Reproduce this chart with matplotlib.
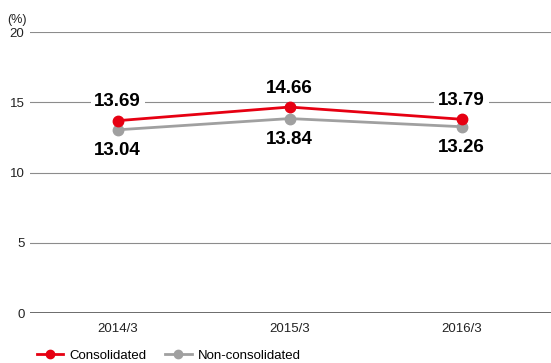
import matplotlib.pyplot as plt

plt.rcParams['font.family'] = ['Liberation Sans', 'DejaVu Sans']

# donnees
annees = ['2014/3', '2015/3', '2016/3']
consolide = [13.69, 14.66, 13.79]
non_consolide = [13.04, 13.84, 13.26]
graduations = [0, 5, 10, 15, 20]

rouge = '#e60012'
gris = '#a0a0a0'

fig = plt.figure(figsize=(5.51, 3.63), dpi=100)
ax = fig.add_axes([0.0544, 0.1377, 0.9456, 0.7741])

x = range(len(annees))
ax.plot(x, non_consolide, color=gris, lw=2, marker='o', ms=7.5, zorder=3,
        label='Non-consolidated')
ax.plot(x, consolide, color=rouge, lw=2, marker='o', ms=7.5, zorder=4,
        label='Consolidated')

# etiquettes des valeurs
for i in x:
    ax.annotate(f'{consolide[i]:.2f}', (i, consolide[i]), xytext=(0, 13.5),
                textcoords='offset points', ha='center', va='center',
                fontsize=13.5, fontweight='bold', zorder=5,
                bbox=dict(boxstyle='square,pad=0.2', fc='white', ec='none'))
    ax.annotate(f'{non_consolide[i]:.2f}', (i, non_consolide[i]), xytext=(0, -15),
                textcoords='offset points', ha='center', va='center',
                fontsize=13.5, fontweight='bold', zorder=5,
                bbox=dict(boxstyle='square,pad=0.2', fc='white', ec='none'))

ax.set_xlim(-0.51, 2.52)
ax.set_ylim(0, 20)
ax.set_yticks(graduations)
ax.set_xticks(list(x))
ax.set_xticklabels(annees)
for g in graduations[1:]:
    ax.axhline(g, color='#8c8c8c', lw=0.8, zorder=1)
ax.axhline(0, color='#444444', lw=1.1, zorder=2)

for s in ax.spines.values():
    s.set_visible(False)
ax.tick_params(axis='both', length=0, labelsize=9.5, colors='#222222')
ax.tick_params(axis='x', pad=7)
ax.tick_params(axis='y', pad=4)
fig.text(0.014, 0.945, '(%)', fontsize=9, color='#222222', va='center')

h, l = ax.get_legend_handles_labels()
fig.legend(h[::-1], l[::-1], loc='lower left', bbox_to_anchor=(0.045, -0.03),
           ncol=2, frameon=False, fontsize=9.5, handlelength=2.0,
           handletextpad=0.5, columnspacing=1.4, markerscale=0.8)

fig.savefig('out.png', dpi=100)
